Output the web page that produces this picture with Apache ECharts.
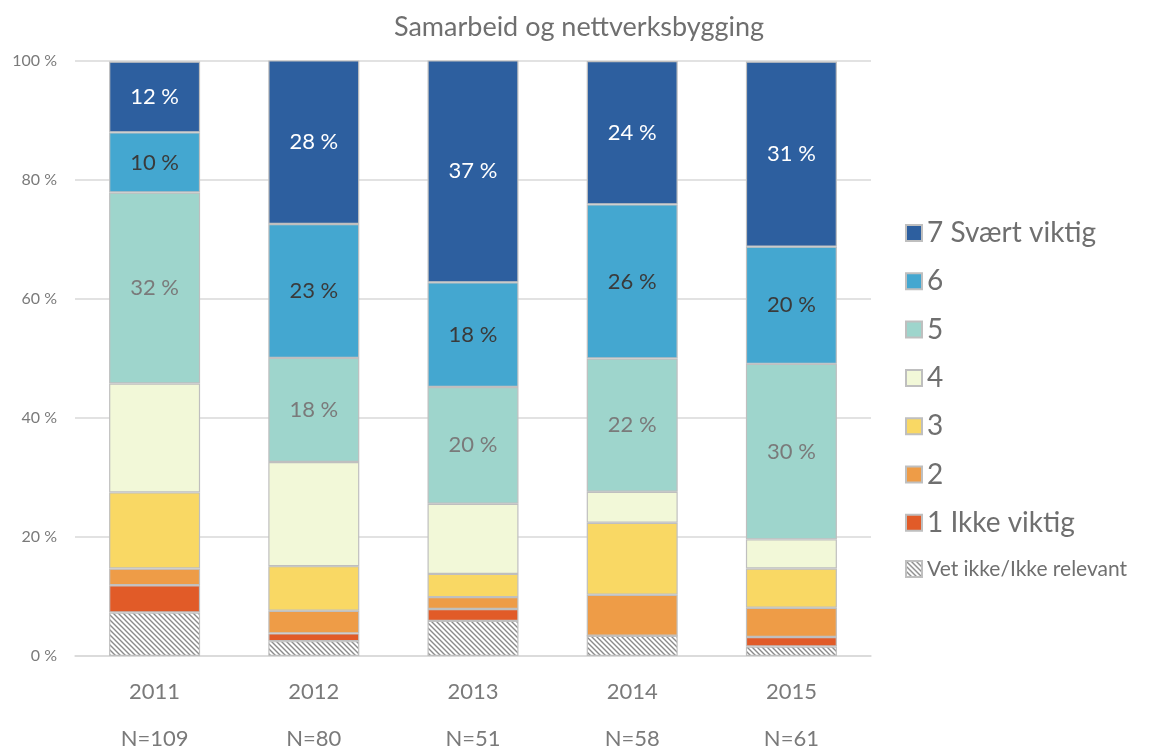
<!DOCTYPE html>
<html>
<head>
<meta charset="utf-8">
<title>Samarbeid og nettverksbygging</title>
<script src="https://cdn.jsdelivr.net/npm/echarts@6/dist/echarts.min.js"></script>
<style>
  html, body { margin: 0; padding: 0; background: #fff; }
  #chart { width: 1158px; height: 751px; }
</style>
</head>
<body>
<div id="chart"></div>
<script>
// data (share of answers, %)
const years = ['2011', '2012', '2013', '2014', '2015'];
const nLabels = ['N=109', 'N=80', 'N=51', 'N=58', 'N=61'];
const yTicks = [0, 20, 40, 60, 80, 100];

const vetIkke = [7.3, 2.5, 5.9, 3.4, 1.6];
const s1 = [4.6, 1.3, 2.0, 0, 1.6];
const s2 = [2.8, 3.8, 2.0, 6.9, 4.9];
const s3 = [12.8, 7.5, 3.9, 12.1, 6.6];
const s4 = [18.3, 17.5, 11.8, 5.2, 4.9];
const s5 = [32.1, 17.5, 19.6, 22.4, 29.5];
const s6 = [10.1, 22.5, 17.6, 25.9, 19.7];
const s7 = [11.9, 27.5, 37.3, 24.1, 31.1];

const FONT = 'Lato, "Open Sans", sans-serif';

// diagonal hatch for "Vet ikke"
function makeHatch() {
    const c = document.createElement('canvas');
    c.width = 5;
    c.height = 5;
    const ctx = c.getContext('2d');
    ctx.fillStyle = '#ffffff';
    ctx.fillRect(0, 0, 5, 5);
    ctx.strokeStyle = '#8a8a8a';
    ctx.lineWidth = 1.4;
    ctx.beginPath();
    ctx.moveTo(-1, -1); ctx.lineTo(6, 6);
    ctx.moveTo(-1, 4); ctx.lineTo(1, 6);
    ctx.moveTo(4, -1); ctx.lineTo(6, 1);
    ctx.stroke();
    return c;
}

const chart = echarts.init(document.getElementById('chart'));

function barSeries(name, data, color, labelColor) {
    return {
        name: name,
        type: 'bar',
        stack: 'total',
        barWidth: 91,
        data: data,
        itemStyle: {
            color: color,
            borderColor: '#bfbfbf',
            borderWidth: 1.2
        },
        label: {
            show: !!labelColor,
            position: 'inside',
            color: labelColor,
            fontFamily: FONT,
            fontSize: 22,
            formatter: p => Math.round(p.value) + ' %'
        },
        emphasis: { disabled: true }
    };
}

const legendText = { fontSize: 28, lineHeight: 28, color: '#6f6f6f', fontFamily: FONT };

const option = {
    animation: false,
    title: {
        text: 'Samarbeid og nettverksbygging',
        left: 'center',
        top: 9,
        textStyle: { fontFamily: FONT, fontSize: 27, fontWeight: 'normal', color: '#6f6f6f' }
    },
    legend: {
        orient: 'vertical',
        left: 900,
        top: 214,
        itemWidth: 16,
        itemHeight: 16,
        itemGap: 20.3,
        icon: 'rect',
        textStyle: legendText,
        data: [
            { name: '7 Svært viktig' },
            { name: '6' },
            { name: '5' },
            { name: '4' },
            { name: '3' },
            { name: '2' },
            { name: '1 Ikke viktig' },
            { name: 'Vet ikke/Ikke relevant', textStyle: { fontSize: 21, lineHeight: 24 } }
        ]
    },
    grid: { left: 75, right: 287, top: 61, bottom: 95 },
    xAxis: {
        type: 'category',
        data: years,
        axisLine: { lineStyle: { color: '#d9d9d9', width: 1.5 } },
        axisTick: { show: false },
        axisLabel: {
            margin: 12,
            formatter: (v, i) => '{y|' + v + '}\n{n|' + nLabels[i] + '}',
            rich: {
                y: { fontFamily: FONT, fontSize: 22, lineHeight: 47, color: '#7a7a7a' },
                n: { fontFamily: FONT, fontSize: 22, lineHeight: 47, color: '#7a7a7a' }
            }
        }
    },
    yAxis: {
        type: 'value',
        min: yTicks[0],
        max: yTicks[yTicks.length - 1],
        interval: 20,
        axisLine: { show: false },
        axisTick: { show: false },
        splitLine: { lineStyle: { color: '#d9d9d9', width: 1.5 } },
        axisLabel: {
            margin: 18,
            fontFamily: FONT,
            fontSize: 16,
            color: '#7a7a7a',
            formatter: '{value} %'
        }
    },
    series: [
        barSeries('Vet ikke/Ikke relevant', vetIkke, { image: makeHatch(), repeat: 'repeat' }),
        barSeries('1 Ikke viktig', s1, '#e15b28'),
        barSeries('2', s2, '#ee9c47'),
        barSeries('3', s3, '#f9d864'),
        barSeries('4', s4, '#f2f8d8'),
        barSeries('5', s5, '#9ed5cc', '#7a7a7a'),
        barSeries('6', s6, '#44a7d0', '#3a3a3a'),
        barSeries('7 Svært viktig', s7, '#2d5f9f', '#ffffff')
    ]
};

chart.setOption(option);
</script>
</body>
</html>
